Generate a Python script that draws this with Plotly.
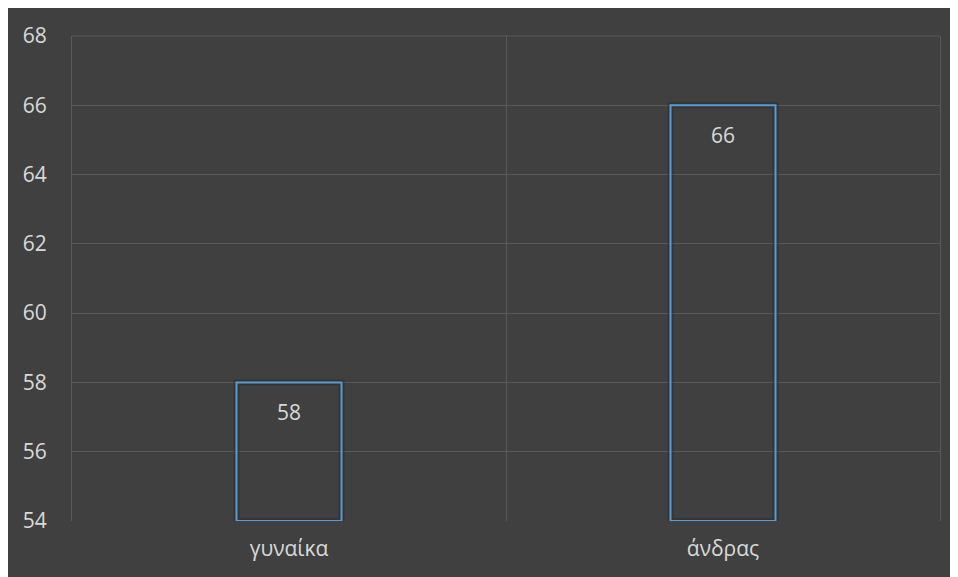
import plotly.graph_objects as go

## data
categories = ["γυναίκα", "άνδρας"]
values = [58, 66]
y_min, y_max = 54, 68

GRID = "#595959"
TXT = "#d9d9d9"

fig = go.Figure()
# soft shadow behind the outlined bars
fig.add_trace(go.Bar(
    x=categories, y=[v - y_min for v in values], base=y_min, width=0.242,
    marker=dict(color="rgba(0,0,0,0)", line=dict(color="rgba(40,40,40,0.45)", width=6)),
    hoverinfo="skip"))
fig.add_trace(go.Bar(
    x=categories, y=[v - y_min for v in values], base=y_min, width=0.242,
    marker=dict(color="rgba(0,0,0,0)", line=dict(color="#5b9bd5", width=2)),
    hoverinfo="skip"))

# value labels inside, near the top
for c, v in zip(categories, values):
    fig.add_annotation(x=c, y=v, text=str(v), showarrow=False, yanchor="top",
                       yshift=-14, font=dict(color=TXT, size=21))

# top frame line (at 68)
fig.add_shape(type="line", xref="paper", yref="paper", x0=0, x1=1, y0=1, y1=1,
              line=dict(color=GRID, width=1), layer="below")

fig.update_layout(
    width=950, height=569,
    margin=dict(l=64, r=18, t=28, b=56),
    paper_bgcolor="#404040", plot_bgcolor="#404040",
    font=dict(family="Open Sans, Noto Sans, sans-serif", color=TXT, size=21),
    showlegend=False,
    barmode="overlay",
)
fig.update_xaxes(type="category", tickson="boundaries", showgrid=True,
                 gridcolor=GRID, gridwidth=1, ticks="", showline=False,
                 zeroline=False, ticklabelstandoff=13)
fig.update_yaxes(range=[y_min, y_max], dtick=2, showgrid=True, gridcolor=GRID,
                 gridwidth=1, zeroline=False, showline=True, mirror=True,
                 linecolor=GRID, linewidth=1, ticks="", ticklabelstandoff=20)

fig.write_html("out.html")
